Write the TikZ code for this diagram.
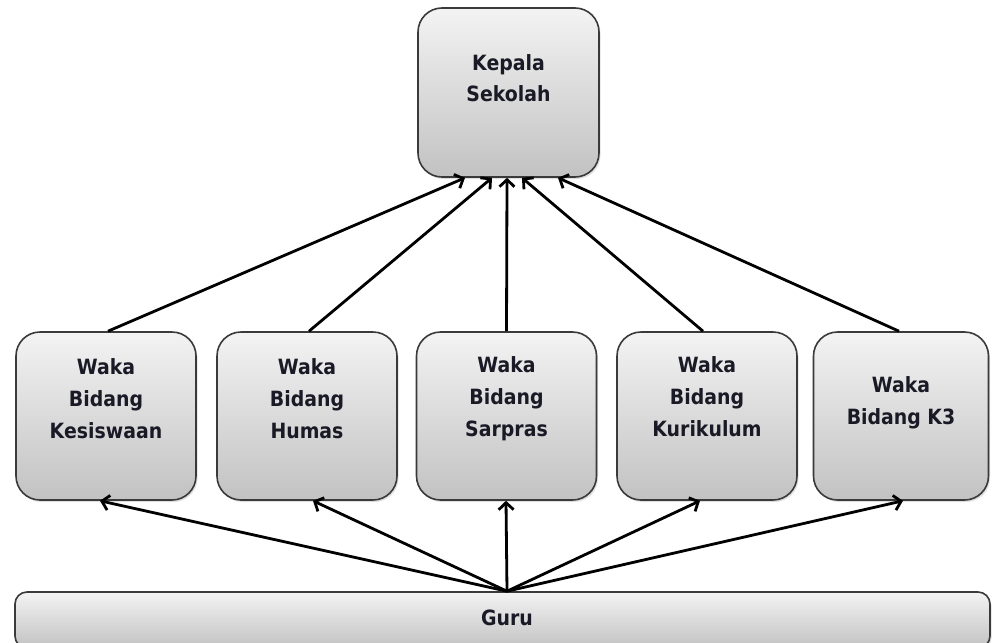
\documentclass[tikz,border=0pt]{standalone}
\usepackage{fontspec}
\setmainfont[FakeStretch=0.9]{DejaVu Sans}
\usetikzlibrary{arrows.meta,shadows}
\definecolor{edgec}{HTML}{3A3A3A}
\definecolor{topc}{HTML}{F3F3F3}
\definecolor{botc}{HTML}{C2C2C2}
\definecolor{txtc}{HTML}{1A1A26}
\tikzset{
  box/.style={draw=edgec, line width=1.6pt, rounded corners=24pt, top color=topc, bottom color=botc,
    minimum width=180pt, minimum height=168pt, inner sep=0pt,
    drop shadow={opacity=0.25, shadow xshift=1.5pt, shadow yshift=-2pt}},
  bar/.style={box, rounded corners=12pt, minimum width=975pt, minimum height=56pt},
  lbl/.style={align=center, font=\bfseries\fontsize{21}{32}\selectfont, text=txtc, inner sep=0pt},
  con/.style={line width=2.8pt, -{Straight Barb[length=7pt,width=15pt]}}
}
\begin{document}
\begin{tikzpicture}[x=1pt,y=-1pt]
\clip (0,0) rectangle (992,642);
\useasboundingbox (0,0) rectangle (992,642);
\fill[white] (0,0) rectangle (992,642);
% top
\node[box, minimum width=181pt, minimum height=169pt] (kep) at (508.5,92.5) {};
\node[lbl, font=\bfseries\fontsize{21}{31}\selectfont] (kept) at (508.5,78) {Kepala\\Sekolah};
% middle row
\node[box] (kes) at (106,416) {};
\node[box] (hum) at (307,416) {};
\node[box] (sar) at (506.5,416) {};
\node[box] (kur) at (707,416) {};
\node[box, minimum width=175pt] (k3) at (901,416) {};
\node[lbl] (kest) at (106,399) {Waka\\Bidang\\Kesiswaan};
\node[lbl] (humt) at (307,399) {Waka\\Bidang\\Humas};
\node[lbl] (sart) at (506.5,399) {Waka\\Bidang\\Sarpras};
\node[lbl] (kurt) at (707,397) {Waka\\Bidang\\Kurikulum};
\node[lbl] (k3t) at (901,403) {Waka\\Bidang K3};
% guru bar
\node[bar] (guru) at (502.5,620) {};
\node[lbl] (gurut) at (507,618) {Guru};
\coordinate (g) at ([xshift=4.5pt]guru.north);
% arrows up to Kepala Sekolah
\draw[con] ([xshift=2pt]kes.north) -- ([xshift=-43.5pt]kep.south);
\draw[con] ([xshift=2pt]hum.north) -- ([xshift=-16.5pt]kep.south);
\draw[con] (sar.north) -- ([xshift=-1.5pt]kep.south);
\draw[con] ([xshift=-4pt]kur.north) -- ([xshift=13.5pt]kep.south);
\draw[con] ([xshift=-2pt]k3.north) -- ([xshift=49.5pt]kep.south);
% arrows from Guru
\draw[con] (g) -- ([xshift=-6pt]kes.south);
\draw[con] (g) -- ([xshift=6pt]hum.south);
\draw[con] (g) -- ([xshift=-0.5pt]sar.south);
\draw[con] (g) -- ([xshift=-7pt]kur.south);
\draw[con] (g) -- ([xshift=2pt]k3.south);
\end{tikzpicture}
\end{document}
